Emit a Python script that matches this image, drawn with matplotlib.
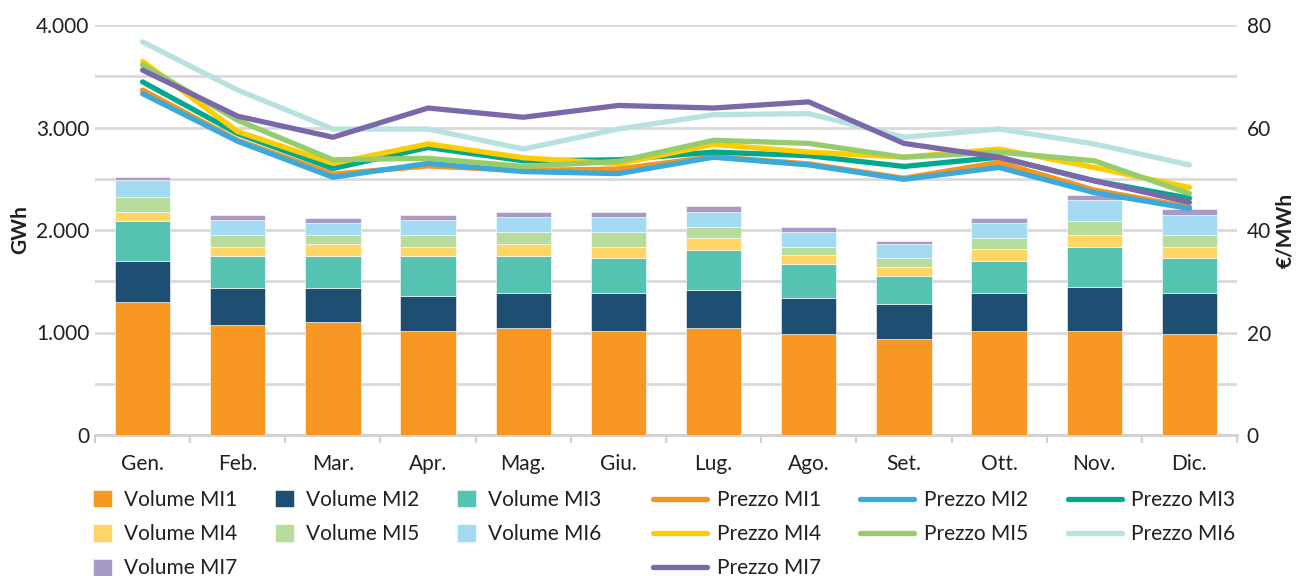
import matplotlib.pyplot as plt
import numpy as np

plt.rcParams['font.family'] = ['Lato', 'DejaVu Sans']

months = ["Gen.", "Feb.", "Mar.", "Apr.", "Mag.", "Giu.",
          "Lug.", "Ago.", "Set.", "Ott.", "Nov.", "Dic."]

# volumi (GWh)
vol_mi1 = [1300, 1077, 1104, 1019, 1048, 1019, 1048, 990, 932, 1019, 1019, 990]
vol_mi2 = [397, 362, 335, 339, 339, 368, 365, 342, 342, 368, 423, 397]
vol_mi3 = [390, 309, 309, 390, 361, 339, 393, 336, 278, 310, 393, 339]
vol_mi4 = [91, 91, 120, 91, 120, 113, 117, 84, 90, 113, 117, 113]
vol_mi5 = [142, 113, 84, 113, 110, 139, 110, 83, 81, 113, 139, 113]
vol_mi6 = [168, 142, 113, 142, 145, 145, 145, 146, 145, 142, 199, 197]
vol_mi7 = [25, 55, 55, 55, 51, 51, 58, 52, 26, 55, 56, 54]

# prezzi (EUR/MWh)
prz_mi1 = [67.3, 57.5, 50.9, 52.5, 51.6, 51.9, 54.3, 52.9, 50.1, 53.2, 47.8, 44.5]
prz_mi2 = [66.6, 57.3, 50.3, 53.0, 51.4, 51.0, 54.2, 52.7, 49.9, 52.2, 47.3, 44.2]
prz_mi3 = [68.9, 58.8, 52.0, 56.1, 53.5, 53.7, 55.2, 54.5, 52.4, 54.2, 49.6, 46.2]
prz_mi4 = [72.9, 59.2, 53.0, 56.8, 54.1, 52.9, 56.7, 55.2, 54.2, 55.8, 52.2, 48.3]
prz_mi5 = [72.2, 61.4, 53.7, 54.0, 52.4, 53.4, 57.5, 56.9, 54.2, 55.2, 53.5, 47.1]
prz_mi6 = [76.7, 67.3, 59.7, 59.7, 55.8, 59.7, 62.5, 62.7, 58.1, 59.7, 56.8, 52.7]
prz_mi7 = [71.2, 62.2, 58.1, 63.8, 62.0, 64.3, 63.8, 65.0, 56.9, 54.2, 49.6, 45.4]

left_ticks = [0, 1000, 2000, 3000, 4000]
left_labels = ["0", "1.000", "2.000", "3.000", "4.000"]
right_ticks = [0, 20, 40, 60, 80]

volumes = [vol_mi1, vol_mi2, vol_mi3, vol_mi4, vol_mi5, vol_mi6, vol_mi7]
prices = [prz_mi1, prz_mi2, prz_mi3, prz_mi4, prz_mi5, prz_mi6, prz_mi7]
vol_colors = ["#F89823", "#1F4E73", "#56C2B2", "#FFD666", "#B8DC9C", "#A3DBF3", "#A79AC8"]
prz_colors = ["#F7941D", "#3AAADA", "#00A98E", "#FFCC00", "#96CC6C", "#B8E2DF", "#7A68AA"]

txt = "#231F20"
grid_c = "#D9D9D9"
fs = 15

fig = plt.figure(figsize=(12.97, 5.76), dpi=100)
ax = fig.add_axes([95 / 1297, 1 - 435 / 576, (1237 - 95) / 1297, 410 / 576])
ax2 = ax.twinx()

x = np.arange(len(months))
bottom = np.zeros(len(months))
bar_handles = []
for i, (v, c) in enumerate(zip(volumes, vol_colors)):
    b = ax.bar(x, v, width=0.58, bottom=bottom, color=c, edgecolor="white",
               linewidth=0.4, label=f"Volume MI{i + 1}", zorder=3)
    bar_handles.append(b)
    bottom += np.array(v)

line_handles = []
for i, (p, c) in enumerate(zip(prices, prz_colors)):
    ln, = ax2.plot(x, p, color=c, lw=3.8, solid_capstyle="round",
                   solid_joinstyle="round", label=f"Prezzo MI{i + 1}")
    line_handles.append(ln)

ax.set_xlim(-0.5, 11.5)
ax.set_ylim(0, 4000)
ax2.set_ylim(0, 80)

ax.set_yticks(left_ticks)
ax.set_yticklabels(left_labels)
ax.set_yticks(np.arange(500, 4000, 1000), minor=True)
ax.grid(axis="y", which="both", color=grid_c, lw=2, zorder=0)
ax.set_axisbelow(True)
ax.tick_params(axis="y", which="both", length=0, labelsize=fs, labelcolor=txt, pad=4)

ax.set_xticks(x)
ax.set_xticklabels(months)
ax.set_xticks(np.arange(-0.5, 12, 1), minor=True)
ax.tick_params(axis="x", which="major", length=0, labelsize=fs, labelcolor=txt, pad=14)
ax.tick_params(axis="x", which="minor", length=6, width=1.5, color="#D0D0D0", direction="out")

ax2.set_yticks(right_ticks)
ax2.tick_params(axis="y", length=0, labelsize=fs, labelcolor=txt, pad=7)

for a in (ax, ax2):
    for s in ("top", "left", "right"):
        a.spines[s].set_visible(False)
ax2.spines["bottom"].set_visible(False)
ax.spines["bottom"].set_color("#D0D0D0")
ax.spines["bottom"].set_linewidth(2)

ax.set_ylabel("GWh", fontsize=fs, fontweight="bold", color=txt, labelpad=4)
ax2.set_ylabel("€/MWh", fontsize=fs, fontweight="bold", color=txt, labelpad=3)

# legend: order so that columns read MI1/MI4/MI7, MI2/MI5, MI3/MI6
order = [0, 3, 6, 1, 4, 2, 5]
leg1 = fig.legend([bar_handles[i] for i in order],
                  [f"Volume MI{i + 1}" for i in order],
                  ncol=3, loc="upper left", bbox_to_anchor=(93 / 1297, 1 - 490 / 576),
                  frameon=False, fontsize=fs, handlelength=0.9, handleheight=0.9,
                  handletextpad=0.6, columnspacing=1.8, labelspacing=0.68,
                  borderpad=0, borderaxespad=0, labelcolor=txt)
leg2 = fig.legend([line_handles[i] for i in order],
                  [f"Prezzo MI{i + 1}" for i in order],
                  ncol=3, loc="upper left", bbox_to_anchor=(653 / 1297, 1 - 490 / 576),
                  frameon=False, fontsize=fs, handlelength=2.6,
                  handletextpad=0.45, columnspacing=1.9, labelspacing=0.68,
                  borderpad=0, borderaxespad=0, labelcolor=txt)

fig.savefig("out.png", dpi=100)
